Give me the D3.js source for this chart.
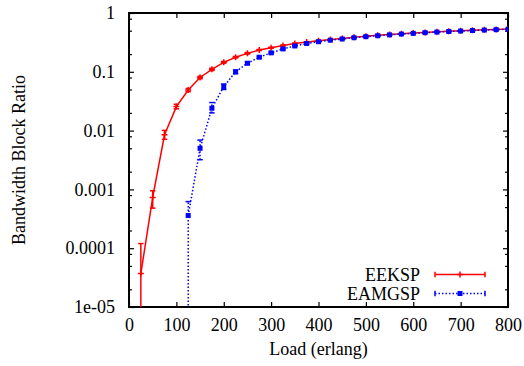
<!DOCTYPE html>
<html>
<head>
<meta charset="utf-8">
<script src="https://cdn.jsdelivr.net/npm/d3@7"></script>
<style>
  body { margin: 0; background: #fff; }
</style>
</head>
<body>
<svg id="chart" width="524" height="366"></svg>
<script>
// EEKSP (red, solid)
const eekspLoad = [25, 50, 75, 100, 125, 150, 175, 200, 225, 250, 275, 300, 325, 350, 375, 400,
  425, 450, 475, 500, 525, 550, 575, 600, 625, 650, 675, 700, 725, 750, 775, 800];
const eekspRatio = [3.7e-5, 7.3e-4, 0.0085, 0.0256, 0.049, 0.08, 0.11, 0.145, 0.177, 0.206, 0.235, 0.257,
  0.28, 0.303, 0.32, 0.337, 0.355, 0.37, 0.388, 0.403, 0.418, 0.432, 0.445, 0.457, 0.468, 0.479,
  0.489, 0.499, 0.508, 0.517, 0.525, 0.533];
const eekspLow = [1e-7, 4.8e-4, 0.0071, 0.0235, 0.046, 0.076, 0.105, 0.14, 0.172, 0.2, 0.23, 0.252,
  0.275, 0.298, 0.315, 0.332, 0.35, 0.365, 0.383, 0.398, 0.413, 0.427, 0.44, 0.452, 0.463, 0.474,
  0.484, 0.494, 0.503, 0.512, 0.52, 0.528];
const eekspHigh = [1.2e-4, 9.5e-4, 0.0101, 0.028, 0.052, 0.084, 0.115, 0.15, 0.182, 0.212, 0.24, 0.262,
  0.285, 0.308, 0.325, 0.342, 0.36, 0.375, 0.393, 0.408, 0.423, 0.437, 0.45, 0.462, 0.473, 0.484,
  0.494, 0.504, 0.513, 0.522, 0.53, 0.538];

// EAMGSP (blue, dotted)
const eamgspLoad = [125, 150, 175, 200, 225, 250, 275, 300, 325, 350, 375, 400, 425, 450, 475, 500,
  525, 550, 575, 600, 625, 650, 675, 700, 725, 750, 775, 800];
const eamgspRatio = [3.6e-4, 0.005, 0.024, 0.056, 0.1, 0.14, 0.177, 0.21, 0.245, 0.275, 0.303, 0.325,
  0.345, 0.362, 0.38, 0.396, 0.411, 0.425, 0.439, 0.451, 0.463, 0.474, 0.484, 0.494, 0.504, 0.513,
  0.521, 0.53];
const eamgspLow = [1e-7, 0.0032, 0.02, 0.05, 0.093, 0.133, 0.17, 0.203, 0.238, 0.268, 0.296, 0.318,
  0.338, 0.355, 0.373, 0.389, 0.404, 0.418, 0.432, 0.444, 0.456, 0.467, 0.477, 0.487, 0.497, 0.506,
  0.514, 0.523];
const eamgspHigh = [6.2e-4, 0.0069, 0.03, 0.062, 0.107, 0.147, 0.184, 0.217, 0.252, 0.282, 0.31, 0.332,
  0.352, 0.369, 0.387, 0.403, 0.418, 0.432, 0.446, 0.458, 0.47, 0.481, 0.491, 0.501, 0.511, 0.52,
  0.528, 0.537];

const xTicks = [0, 100, 200, 300, 400, 500, 600, 700, 800];
const yTicks = [1e-5, 1e-4, 1e-3, 1e-2, 1e-1, 1];
const yTickLabels = ["1e-05", "0.0001", "0.001", "0.01", "0.1", "1"];
const yMinorMantissa = [2, 5, 8];

const FONT = '"Liberation Serif", "Times New Roman", serif';
const FSIZE = 18;

const margin = { top: 13, right: 16, bottom: 59, left: 129 };
const W = 524, H = 366;

const x = d3.scaleLinear().domain([0, 800]).range([margin.left, W - margin.right]);
const y = d3.scaleLog().domain([1e-5, 1]).range([H - margin.bottom, margin.top]);

const svg = d3.select('#chart')
  .attr('font-family', FONT)
  .attr('font-size', FSIZE);

svg.append('clipPath').attr('id', 'plotClip')
  .append('rect')
  .attr('x', x(0)).attr('y', y(1))
  .attr('width', x(800) - x(0)).attr('height', y(1e-5) - y(1));

// minor y ticks
let yMinor = [];
for (let i = 0; i < yTicks.length - 1; i++) {
  yMinorMantissa.forEach(m => yMinor.push(yTicks[i] * m));
}

function styleAxis(g) {
  g.attr('font-family', FONT).attr('font-size', FSIZE);
  g.select('.domain').remove();
  g.selectAll('.tick line').attr('stroke', '#000').attr('stroke-width', 1.2);
  g.selectAll('.tick text').attr('fill', '#000');
}

// bottom axis + mirror
svg.append('g')
  .attr('transform', `translate(0,${y(1e-5)})`)
  .call(d3.axisBottom(x).tickValues(xTicks).tickSizeInner(-5).tickSizeOuter(0).tickPadding(11).tickFormat(d3.format('d')))
  .call(styleAxis);
svg.append('g')
  .attr('transform', `translate(0,${y(1)})`)
  .call(d3.axisTop(x).tickValues(xTicks).tickSizeInner(-5).tickSizeOuter(0).tickFormat(''))
  .call(styleAxis);

// left axis + mirror
svg.append('g')
  .attr('transform', `translate(${x(0)},0)`)
  .call(d3.axisLeft(y).tickValues(yTicks).tickSizeInner(-5).tickSizeOuter(0).tickPadding(14)
    .tickFormat((d, i) => yTickLabels[i]))
  .call(styleAxis);
svg.append('g')
  .attr('transform', `translate(${x(800)},0)`)
  .call(d3.axisRight(y).tickValues(yTicks).tickSizeInner(-5).tickSizeOuter(0).tickFormat(''))
  .call(styleAxis);
svg.append('g')
  .attr('transform', `translate(${x(0)},0)`)
  .call(d3.axisLeft(y).tickValues(yMinor).tickSizeInner(-3).tickSizeOuter(0).tickFormat(''))
  .call(styleAxis);
svg.append('g')
  .attr('transform', `translate(${x(800)},0)`)
  .call(d3.axisRight(y).tickValues(yMinor).tickSizeInner(-3).tickSizeOuter(0).tickFormat(''))
  .call(styleAxis);

// border
svg.append('rect')
  .attr('x', x(0)).attr('y', y(1))
  .attr('width', x(800) - x(0)).attr('height', y(1e-5) - y(1))
  .attr('fill', 'none').attr('stroke', '#000').attr('stroke-width', 2);

// axis titles
svg.append('text')
  .attr('x', (x(0) + x(800)) / 2).attr('y', 355)
  .attr('text-anchor', 'middle')
  .text('Load (erlang)');
svg.append('text')
  .attr('transform', `translate(25,${(y(1) + y(1e-5)) / 2}) rotate(-90)`)
  .attr('text-anchor', 'middle')
  .text('Bandwidth Block Ratio');

const plot = svg.append('g').attr('clip-path', 'url(#plotClip)');
const cap = 2.7;

function drawSeries(load, ratio, low, high, color, dash, marker) {
  const pts = load.map((l, i) => ({ l: l, v: ratio[i], lo: low[i], hi: high[i] }));
  const line = d3.line().x(d => x(d.l)).y(d => y(d.v));
  plot.append('path')
    .datum(pts)
    .attr('d', line)
    .attr('fill', 'none')
    .attr('stroke', color)
    .attr('stroke-width', 1.5)
    .attr('stroke-dasharray', dash);

  // error bars (lower end may fall off the log scale and gets clipped)
  const eb = plot.selectAll(null).data(pts).enter().append('g').attr('class', 'errbar');
  eb.append('line')
    .attr('x1', d => x(d.l)).attr('x2', d => x(d.l))
    .attr('y1', d => y(d.lo)).attr('y2', d => y(d.hi))
    .attr('stroke', color).attr('stroke-width', 1.5).attr('stroke-dasharray', dash);
  eb.append('line')
    .attr('x1', d => x(d.l) - cap).attr('x2', d => x(d.l) + cap)
    .attr('y1', d => y(d.hi)).attr('y2', d => y(d.hi))
    .attr('stroke', color).attr('stroke-width', 1.5);
  eb.filter(d => y(d.lo) < y(1e-5))
    .append('line')
    .attr('x1', d => x(d.l) - cap).attr('x2', d => x(d.l) + cap)
    .attr('y1', d => y(d.lo)).attr('y2', d => y(d.lo))
    .attr('stroke', color).attr('stroke-width', 1.5);

  if (marker === 'plus') {
    plot.selectAll(null).data(pts).enter().append('path')
      .attr('d', d => `M${x(d.l) - 3},${y(d.v)}h6M${x(d.l)},${y(d.v) - 3}v6`)
      .attr('stroke', color).attr('stroke-width', 1.5);
  } else {
    plot.selectAll(null).data(pts).enter().append('rect')
      .attr('x', d => x(d.l) - 2.5).attr('y', d => y(d.v) - 2.5)
      .attr('width', 5).attr('height', 5)
      .attr('fill', color);
  }
}

drawSeries(eekspLoad, eekspRatio, eekspLow, eekspHigh, '#ff0000', null, 'plus');
drawSeries(eamgspLoad, eamgspRatio, eamgspLow, eamgspHigh, '#0000ff', '1.5,2', 'square');

// legend
const legendItems = [
  { name: 'EEKSP', color: '#ff0000', dash: null, marker: 'plus' },
  { name: 'EAMGSP', color: '#0000ff', dash: '1.5,2', marker: 'square' }
];
const lg = svg.append('g');
legendItems.forEach((it, i) => {
  const ly = 274.5 + i * 19;
  lg.append('text').attr('x', 420).attr('y', ly + 6).attr('text-anchor', 'end').text(it.name);
  lg.append('line').attr('x1', 435).attr('x2', 485).attr('y1', ly).attr('y2', ly)
    .attr('stroke', it.color).attr('stroke-width', 1.5).attr('stroke-dasharray', it.dash);
  [435, 485].forEach(xx => {
    lg.append('line').attr('x1', xx).attr('x2', xx).attr('y1', ly - cap).attr('y2', ly + cap)
      .attr('stroke', it.color).attr('stroke-width', 1.5);
  });
  if (it.marker === 'plus') {
    lg.append('path').attr('d', `M457,${ly}h6M460,${ly - 3}v6`).attr('stroke', it.color).attr('stroke-width', 1.5);
  } else {
    lg.append('rect').attr('x', 457.5).attr('y', ly - 2.5).attr('width', 5).attr('height', 5).attr('fill', it.color);
  }
});
</script>
</body>
</html>
